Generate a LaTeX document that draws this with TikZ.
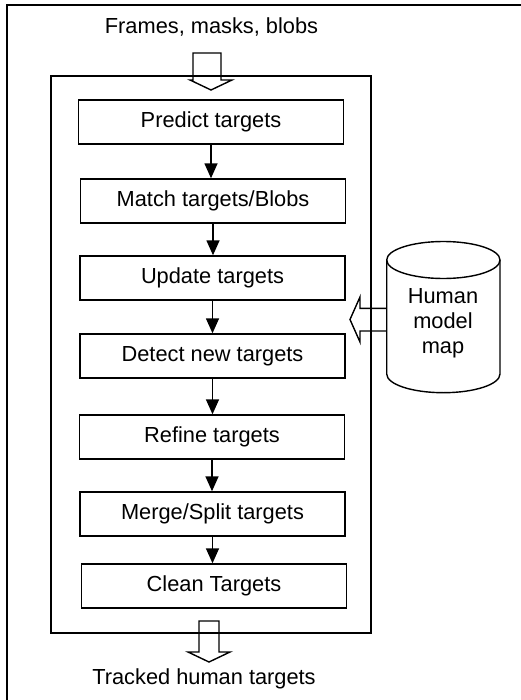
\documentclass[tikz,border=0pt]{standalone}
\usepackage{fontspec}
\setmainfont{Liberation Sans}
\usetikzlibrary{arrows.meta}
\begin{document}
\begin{tikzpicture}[x=1bp,y=-1bp,
  stepbox/.style={draw,line width=1.4bp,minimum width=265bp,minimum height=44bp,inner sep=0pt,
    font=\fontsize{21.8bp}{25bp}\selectfont},
  flow/.style={line width=1.5bp,-{Triangle[length=15bp,width=13bp]}},
  hollow/.style={draw,line width=1.4bp,line join=miter},
  frame/.style={draw,line width=1.4bp},
  lbl/.style={font=\fontsize{21.8bp}{25bp}\selectfont,inner sep=0pt}]
\useasboundingbox (0,0) rectangle (521,700);
\clip (0,0) rectangle (521,700);
% outer frame (cropped on right and bottom)
\draw[frame] (7,720) -- (7,5) -- (540,5);
% inner frame
\draw[frame] (51,76) rectangle (371,633);
% steps
\node[stepbox] (p) at (211,122) {Predict targets};
\node[stepbox] (m) at (213,201) {Match targets/Blobs};
\node[stepbox] (u) at (212.5,278) {Update targets};
\node[stepbox] (d) at (212.5,356) {Detect new targets};
\node[stepbox] (r) at (212,437) {Refine targets};
\node[stepbox] (s) at (212.5,514) {Merge/Split targets};
\node[stepbox] (c) at (214,586) {Clean Targets};
\draw[flow] (p.south) -- (p.south |- m.north);
\draw[flow] (m.south) -- (m.south |- u.north);
\draw[flow] (u.south) -- (u.south |- d.north);
\draw[flow] (d.south) -- (d.south |- r.north);
\draw[flow] (r.south) -- (r.south |- s.north);
\draw[flow] (s.south) -- (s.south |- c.north);
% input / output labels
\node[lbl] (in) at (211.5,27) {Frames, masks, blobs};
\node[lbl] (out) at (204,679) {Tracked human targets};
% hollow input arrow
\draw[hollow] (193,53) -- (221,53) -- (221,80) -- (232,80) -- (211,90) -- (190,80) -- (193,80) -- cycle;
% hollow output arrow
\draw[hollow] (199,621) -- (219,621) -- (219,652) -- (230,652) -- (209,662) -- (188,652) -- (199,652) -- cycle;
% cylinder
\coordinate (cylL) at (386.7,319.5);
\draw[frame] (386.7,260) arc[start angle=180,end angle=540,x radius=56.65,y radius=18.5];
\draw[frame] (386.7,260) -- (386.7,374) arc[start angle=180,end angle=0,x radius=56.65,y radius=18.7] -- (500,260);
\node[lbl,align=center] (map) at (443,323) {Human\\model\\map};
% hollow arrow from cylinder
\draw[hollow] (cylL |- 0,308.3) -- (360,308.3) -- (360,297) -- (350,319.5) -- (360,342) -- (360,331) -- (cylL |- 0,331);
\end{tikzpicture}
\end{document}
